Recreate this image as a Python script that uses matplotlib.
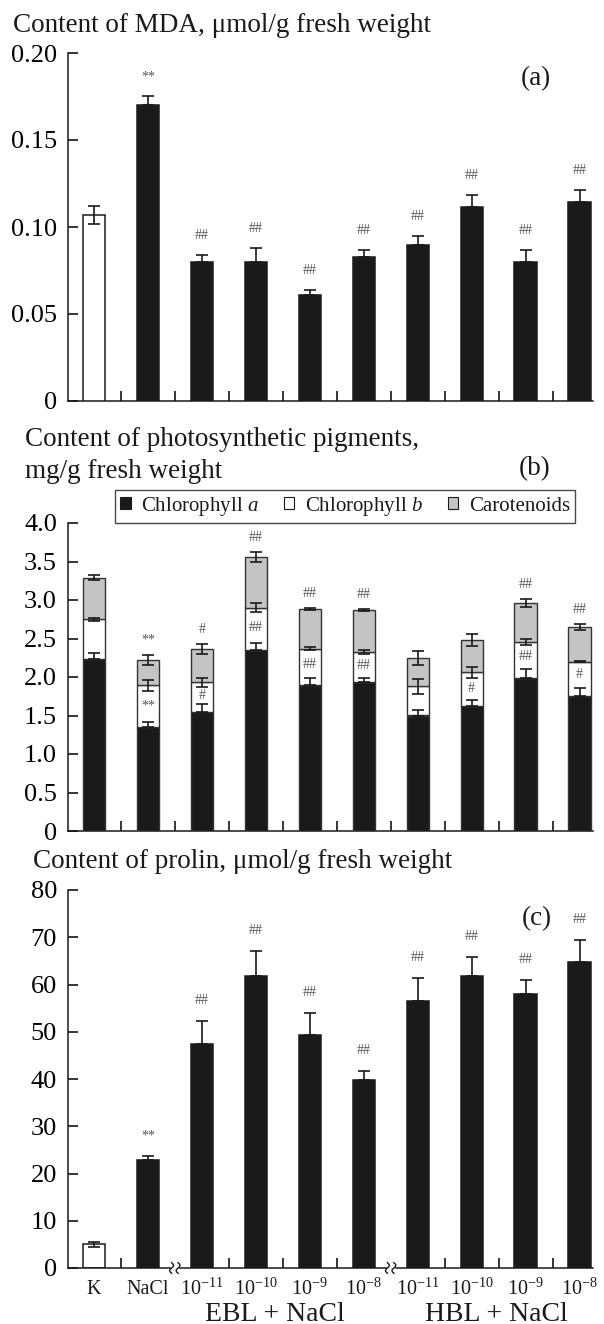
import numpy as np
import matplotlib
matplotlib.use("Agg")
import matplotlib.pyplot as plt
from matplotlib.patches import Patch

plt.rcParams['font.family'] = ['Liberation Serif', 'DejaVu Serif']
plt.rcParams['mathtext.fontset'] = 'custom'
plt.rcParams['mathtext.rm'] = 'Liberation Serif'
plt.rcParams['mathtext.it'] = 'Liberation Serif:italic'
plt.rcParams['text.color'] = '#1a1a1a'
plt.rcParams['axes.edgecolor'] = '#1a1a1a'

# ---------------- data ----------------
tick_labels = ['K', 'NaCl', '10$^{-11}$', '10$^{-10}$', '10$^{-9}$', '10$^{-8}$',
               '10$^{-11}$', '10$^{-10}$', '10$^{-9}$', '10$^{-8}$']
group_labels = ['EBL + NaCl', 'HBL + NaCl']

# (a) MDA
mda = [0.107, 0.170, 0.080, 0.080, 0.061, 0.083, 0.0895, 0.1115, 0.080, 0.1143]
mda_err = [0.005, 0.005, 0.004, 0.008, 0.003, 0.004, 0.0055, 0.007, 0.007, 0.007]
mda_marks = ['', '**', '##', '##', '##', '##', '##', '##', '##', '##']

# (b) pigments
chl_a = [2.23, 1.35, 1.55, 2.35, 1.89, 1.93, 1.50, 1.62, 1.99, 1.75]
chl_a_err = [0.08, 0.07, 0.10, 0.09, 0.10, 0.06, 0.07, 0.08, 0.11, 0.11]
chl_b = [0.52, 0.54, 0.38, 0.55, 0.48, 0.40, 0.38, 0.44, 0.47, 0.45]
chl_b_err = [0.02, 0.075, 0.055, 0.06, 0.025, 0.025, 0.10, 0.07, 0.04, 0.008]
carot = [0.54, 0.33, 0.43, 0.66, 0.51, 0.54, 0.37, 0.42, 0.50, 0.45]
carot_err = [0.03, 0.065, 0.065, 0.06, 0.012, 0.008, 0.09, 0.08, 0.05, 0.04]
pig_top_marks = ['', '**', '#', '##', '##', '##', '', '', '##', '##']
pig_mid_marks = ['', '**', '#', '##', '##', '##', '', '#', '##', '#']

# (c) proline
prol = [5.0, 22.9, 47.5, 61.9, 49.3, 39.8, 56.6, 61.9, 58.0, 64.7]
prol_err = [0.6, 0.8, 4.8, 5.2, 4.7, 1.9, 4.8, 4.0, 3.0, 4.7]
prol_marks = ['', '**', '##', '##', '##', '##', '##', '##', '##', '##']

# ---------------- style ----------------
BLACK = '#1a1a1a'
GRAY = '#c4c4c4'
MARK_C = '#555555'
W = 0.41
TICK_FS = 19
TITLE_FS = 19.5
x = np.arange(len(mda))
fig = plt.figure(figsize=(6.04, 13.24), dpi=100)

L, WID = 68 / 604, (593 - 68) / 604
H = 1324.0
axa = fig.add_axes([L, 1 - 401 / H, WID, (401 - 53) / H])
axb = fig.add_axes([L, 1 - 831 / H, WID, (831 - 523) / H])
axc = fig.add_axes([L, 1 - 1268 / H, WID, (1268 - 890) / H])

def style_axes(ax, ymax, yticks, ylabels):
    ax.set_xlim(-0.48, 9.25)
    ax.set_ylim(0, ymax)
    for s in ['top', 'right']:
        ax.spines[s].set_visible(False)
    for s in ['left', 'bottom']:
        ax.spines[s].set_linewidth(1.1)
    ax.set_yticks(yticks)
    ax.set_yticklabels(ylabels)
    ax.tick_params(axis='y', direction='in', length=7, width=1.1, labelsize=TICK_FS, pad=8)
    ax.set_xticks(x)
    ax.set_xticklabels([])
    ax.tick_params(axis='x', which='major', length=0)
    ax.set_xticks(np.arange(len(mda) - 1) + 0.5, minor=True)
    ax.tick_params(axis='x', which='minor', direction='in', length=7, width=1.1)

def errs(ax, xs, ys, es, both):
    lower = [e if b else 0 for e, b in zip(es, both)]
    ax.errorbar(xs, ys, yerr=[lower, es], fmt='none', ecolor=BLACK,
                elinewidth=1.2, capsize=4.5, capthick=1.2, zorder=4)

def marks(ax, xs, ys, labels):
    for xi, yi, lab in zip(xs, ys, labels):
        if lab:
            ax.text(xi, yi, lab, ha='center', va='center', fontsize=10,
                    color=MARK_C, zorder=5)

colors = ['white'] + [BLACK] * (len(mda) - 1)
both = [True] + [False] * (len(mda) - 1)

# ---------- (a) ----------
style_axes(axa, 0.20, [0, 0.05, 0.10, 0.15, 0.20], ['0', '0.05', '0.10', '0.15', '0.20'])
axa.bar(x, mda, W, color=colors, edgecolor=BLACK, linewidth=1.1, zorder=3)
errs(axa, x, mda, mda_err, both)
marks(axa, x, [m + e + 0.011 for m, e in zip(mda, mda_err)], mda_marks)
axa.text(8.2, 0.185, '(a)', fontsize=TITLE_FS, ha='center', va='center')
fig.text(13 / 604, 1 - 26 / H, 'Content of MDA, \u03bcmol/g fresh weight',
         fontsize=TITLE_FS, ha='left', va='center')

# ---------- (b) ----------
style_axes(axb, 4.0, [0, 0.5, 1.0, 1.5, 2.0, 2.5, 3.0, 3.5, 4.0],
           ['0', '0.5', '1.0', '1.5', '2.0', '2.5', '3.0', '3.5', '4.0'])
bot_b = np.array(chl_a)
bot_c = bot_b + np.array(chl_b)
top_c = bot_c + np.array(carot)
axb.bar(x, chl_a, W, color=BLACK, edgecolor='#333333', linewidth=1.0, zorder=3)
axb.bar(x, chl_b, W, bottom=bot_b, color='white', edgecolor='#333333', linewidth=1.0, zorder=3)
axb.bar(x, carot, W, bottom=bot_c, color=GRAY, edgecolor='#333333', linewidth=1.0, zorder=3)
errs(axb, x, bot_b, chl_a_err, [False] * len(x))
errs(axb, x, bot_c, chl_b_err, [True] * len(x))
errs(axb, x, top_c, carot_err, [True] * len(x))
marks(axb, x, top_c + np.array(carot_err) + 0.19, pig_top_marks)
mid_y = (bot_b + np.array(chl_a_err) + bot_c - np.array(chl_b_err)) / 2
marks(axb, x, mid_y, pig_mid_marks)
fig.text(25 / 604, 1 - 440 / H, 'Content of photosynthetic pigments,', fontsize=TITLE_FS,
         ha='left', va='center')
fig.text(25 / 604, 1 - 472 / H, 'mg/g fresh weight', fontsize=TITLE_FS, ha='left', va='center')
fig.text(535 / 604, 1 - 469 / H, '(b)', fontsize=TITLE_FS, ha='center', va='center')
handles = [Patch(facecolor=BLACK, edgecolor=BLACK, linewidth=0.8),
           Patch(facecolor='white', edgecolor=BLACK, linewidth=0.8),
           Patch(facecolor=GRAY, edgecolor=BLACK, linewidth=0.8)]
leg = fig.legend(handles, ['Chlorophyll $\\it{a}$', 'Chlorophyll $\\it{b}$', 'Carotenoids'],
                 loc='lower right', bbox_to_anchor=(575 / 604, 1 - 523 / H),
                 ncol=3, fontsize=15, frameon=True, fancybox=False,
                 handlelength=0.5, handleheight=0.5, handletextpad=0.5,
                 columnspacing=1.2, borderpad=0.25, borderaxespad=0)
leg.get_frame().set_edgecolor(BLACK)
leg.get_frame().set_linewidth(1.0)

# ---------- (c) ----------
style_axes(axc, 80, [0, 10, 20, 30, 40, 50, 60, 70, 80],
           ['0', '10', '20', '30', '40', '50', '60', '70', '80'])
axc.set_xticks([0.5, 2.5, 3.5, 4.5, 6.5, 7.5, 8.5], minor=True)
axc.bar(x, prol, W, color=colors, edgecolor=BLACK, linewidth=1.1, zorder=3)
errs(axc, x, prol, prol_err, both)
marks(axc, x, [p + e + 4.3 for p, e in zip(prol, prol_err)], prol_marks)
axc.text(8.2, 74, '(c)', fontsize=TITLE_FS, ha='center', va='center')
fig.text(33 / 604, 1 - 862 / H, 'Content of prolin, \u03bcmol/g fresh weight',
         fontsize=TITLE_FS, ha='left', va='center')
for xi, lab in zip(x, tick_labels):
    axc.text(xi, -0.057, lab, transform=axc.get_xaxis_transform(), ha='center',
             va='center', fontsize=14.5)
axc.text(3.35, -0.122, group_labels[0], transform=axc.get_xaxis_transform(),
         ha='center', va='center', fontsize=20)
axc.text(7.45, -0.122, group_labels[1], transform=axc.get_xaxis_transform(),
         ha='center', va='center', fontsize=20)

# broken x axis
axc.spines['bottom'].set_visible(False)
tr = axc.get_xaxis_transform()
gap = 0.09
xl = axc.get_xlim()
segs = [(xl[0], 1.5 - gap), (1.5 + gap, 5.5 - gap), (5.5 + gap, xl[1])]
for a, b in segs:
    axc.plot([a, b], [0, 0], color=BLACK, lw=1.1, transform=tr, clip_on=False, zorder=6)
t = np.linspace(-1, 1, 30)
for xc in (1.5, 5.5):
    for dx in (-0.06, 0.06):
        axc.plot(xc + dx + 0.035 * np.sin(t * np.pi), t * 0.014, color=BLACK, lw=1.0,
                 transform=tr, clip_on=False, zorder=6)

fig.savefig('out.png', dpi=100)
